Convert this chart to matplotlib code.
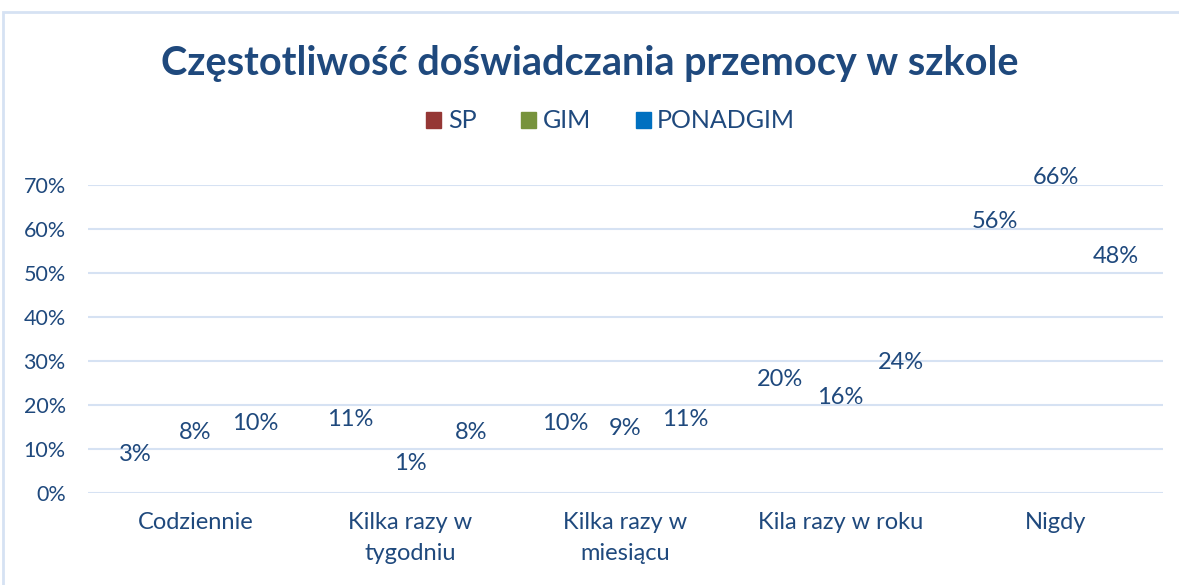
import matplotlib.pyplot as plt
import matplotlib.patches as mpatches
import numpy as np

categories = ["Codziennie", "Kilka razy w\ntygodniu", "Kilka razy w\nmiesiącu", "Kila razy w roku", "Nigdy"]
series = ["SP", "GIM", "PONADGIM"]
sp = [0.03, 0.11, 0.10, 0.20, 0.56]
gim = [0.08, 0.01, 0.09, 0.16, 0.66]
ponadgim = [0.10, 0.08, 0.11, 0.24, 0.48]
colors = ["#953735", "#77933C", "#0070C0"]

text_color = "#1F497D"
grid_color = "#D6E2F3"
plt.rcParams['font.family'] = ['Lato', 'DejaVu Sans']

fig = plt.figure(figsize=(11.79, 5.85), dpi=100)
ax = fig.add_axes([88 / 1179, 1 - 493 / 585, 1075 / 1179, 308 / 585])

# outer chart border
fig.patches.append(mpatches.Rectangle((3 / 1179, -0.01), 1.0, 1 - 12 / 585 + 0.01,
                                      transform=fig.transFigure, fill=False,
                                      edgecolor=grid_color, linewidth=2))

x = np.arange(len(categories))
width = 0.28
for i, (vals, name) in enumerate(zip([sp, gim, ponadgim], series)):
    pos = x + (i - 1) * width
    # bars are not visible in the original, only their labels
    ax.bar(pos, vals, width, color="none", edgecolor="none")
    for px, v in zip(pos, vals):
        ax.annotate(f"{round(v * 100)}%", (px, v), xytext=(0, 18), textcoords="offset points",
                    ha="center", va="center", fontsize=17, color=text_color, annotation_clip=False)

ax.set_xlim(-0.5, len(categories) - 0.5)
ax.set_ylim(0, 0.7)
ax.set_yticks(np.arange(0, 0.71, 0.1))
ax.set_yticklabels([f"{int(round(t * 100))}%" for t in np.arange(0, 0.71, 0.1)])
ax.set_xticks(x)
ax.set_xticklabels(categories, linespacing=1.55)
ax.tick_params(axis="both", length=0, labelcolor=text_color)
ax.tick_params(axis="x", pad=14, labelsize=17)
ax.tick_params(axis="y", pad=16, labelsize=15.5)
ax.grid(axis="y", color=grid_color, linewidth=1.5)
ax.set_axisbelow(True)
for s in ax.spines.values():
    s.set_visible(False)

fig.text(0.5, 1 - 63 / 585, "Częstotliwość doświadczania przemocy w szkole", ha="center", va="center",
         fontsize=28.5, fontweight="bold", color=text_color)

handles = [mpatches.Patch(color=c, label=n) for c, n in zip(colors, series)]
leg = fig.legend(handles=handles, loc="center", bbox_to_anchor=(0.518, 1 - 121 / 585), ncol=3,
                 frameon=False, fontsize=18, handlelength=0.6, handleheight=0.6,
                 handletextpad=0.25, columnspacing=1.8)
for t in leg.get_texts():
    t.set_color(text_color)

fig.savefig("out.png", dpi=100)
